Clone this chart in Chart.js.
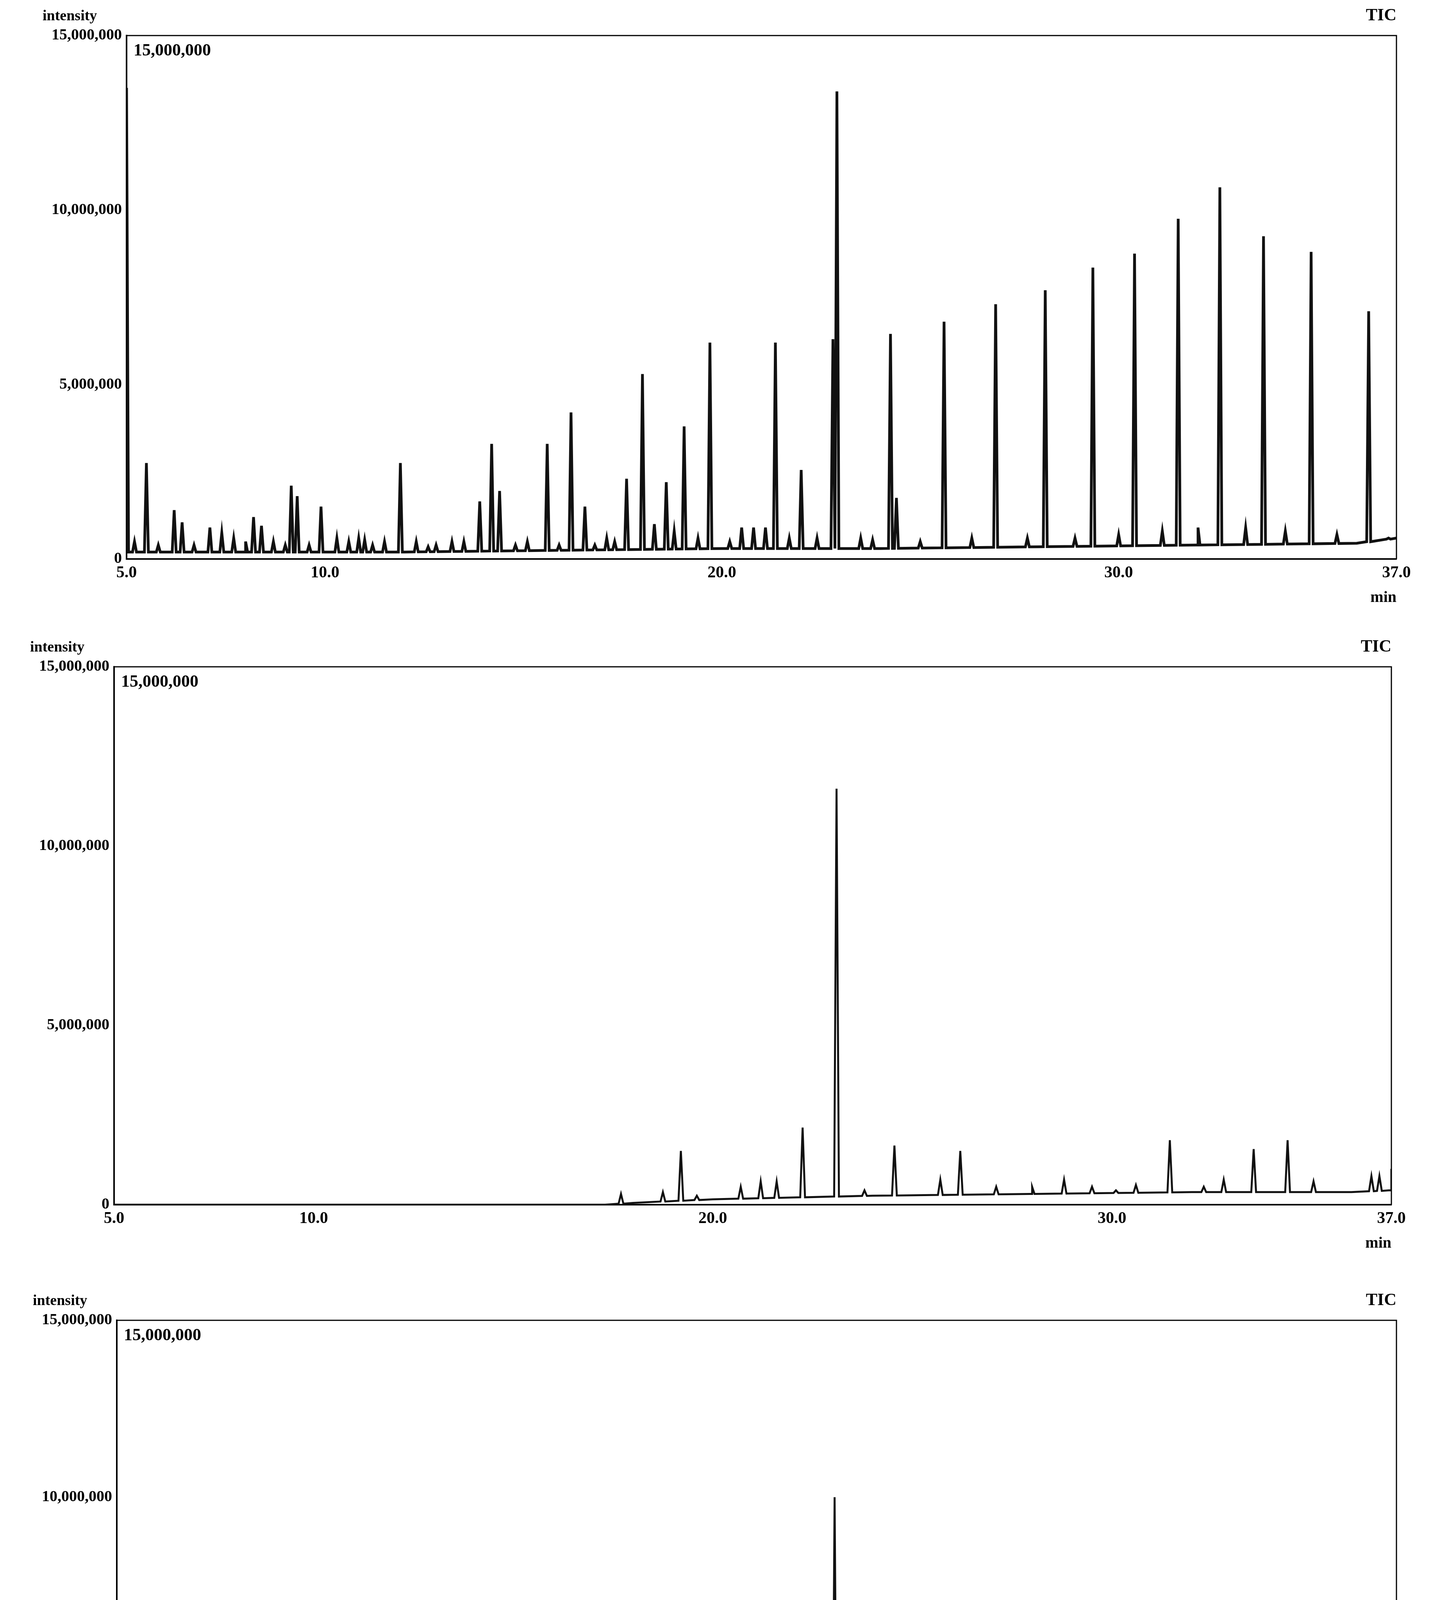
<!DOCTYPE html>
<html><head><meta charset="utf-8">
<script src="https://cdn.jsdelivr.net/npm/chart.js@4"></script>
<style>html,body{margin:0;padding:0;background:#fff;width:3666px;height:4937px;overflow:hidden}
.p{position:absolute;left:0;width:3666px}</style></head><body>
<div class="p" id="w1" style="top:0;height:1600px"><canvas id="c1"></canvas></div>
<div class="p" id="w2" style="top:1600px;height:1650px"><canvas id="c2"></canvas></div>
<div class="p" id="w3" style="top:3250px;height:1687px"><canvas id="c3"></canvas></div>
<script>
// ---- data (retention time in min, intensity in millions) ----
const xTicks=[5,10,20,30,37];
const yTicks=[0,5e6,10e6,15e6];
const peakTimes1=[5.0,5.2,5.5,5.8,6.2,6.4,6.7,7.1,7.4,7.7,8.0,8.2,8.4,8.7,9.0,9.15,9.3,9.6,9.9,10.3,10.6,10.85,11.0,11.2,11.5,11.9,12.3,12.6,12.8,13.2,13.5,13.9,14.2,14.4,14.8,15.1,15.6,15.9,16.2,16.55,16.8,17.1,17.3,17.6,18.0,18.3,18.6,18.8,19.05,19.4,19.7,20.2,20.5,20.8,21.1,21.35,21.7,22.0,22.4,22.8,22.9,23.5,23.8,24.25,24.4,25.0,25.6,26.3,26.9,27.7,28.15,28.9,29.35,30.0,30.4,31.1,31.5,32.0,32.55,33.2,33.65,34.2,34.85,35.5,36.3,36.8];
const peakHeights1=[13.5,0.5,2.75,0.4,1.4,1.05,0.4,0.9,0.75,0.6,0.5,1.2,0.95,0.5,0.4,2.1,1.8,0.4,1.5,0.6,0.5,0.6,0.55,0.4,0.5,2.75,0.5,0.35,0.4,0.5,0.5,1.65,3.3,1.95,0.4,0.5,3.3,0.4,4.2,1.5,0.4,0.6,0.5,2.3,5.3,1.0,2.2,0.8,3.8,0.6,6.2,0.5,0.9,0.9,0.9,6.2,0.6,2.55,0.6,6.3,13.4,0.6,0.55,6.45,1.75,0.5,6.8,0.6,7.3,0.6,7.7,0.6,8.35,0.7,8.75,0.8,9.75,0.9,10.65,0.9,9.25,0.8,8.8,0.7,7.1,0.6];
const baseTimes1=[5,8,12,16,20,24,28,32,36,37];
const baseValues1=[0.2,0.2,0.2,0.25,0.3,0.3,0.35,0.4,0.45,0.6];

const peakTimes2=[17.7,18.75,19.2,19.6,20.7,21.2,21.6,22.25,23.1,23.8,24.55,25.7,26.2,27.1,28.0,28.8,29.5,30.1,30.6,31.45,32.3,32.8,33.55,34.4,35.05,36.5,36.7,37.0];
const peakHeights2=[0.3,0.35,1.5,0.25,0.5,0.65,0.65,2.15,11.6,0.4,1.65,0.7,1.5,0.5,0.5,0.7,0.5,0.4,0.55,1.8,0.5,0.7,1.55,1.8,0.65,0.8,0.8,1.0];
const baseTimes2=[5,17.3,18,19,20,24,28,32,36,37];
const baseValues2=[0,0,0.05,0.1,0.15,0.25,0.3,0.35,0.35,0.4];

const peakTimes3=[17.7,18.7,19.1,20.0,20.55,21.1,21.55,22.1,22.95,23.7,24.4,25.5,26.0,26.95,28.0,28.6,29.5,30.0,30.5,31.3,32.3,32.7,33.3,34.15,34.9,35.3,36.3,36.5,37.0];
const peakHeights3=[0.75,0.7,2.6,0.4,0.75,0.75,0.6,2.2,10.0,2.6,1.6,1.3,3.7,1.45,0.4,1.3,0.4,0.5,0.4,1.8,0.4,0.6,1.8,1.9,0.7,0.5,0.8,0.7,1.0];
const baseTimes3=[5,17.3,18,19,20,24,28,32,36,37];
const baseValues3=[0,0,0.05,0.1,0.2,0.25,0.3,0.3,0.35,0.4];

function baseAt(bt,bv,t){for(let i=0;i<bt.length-1;i++){if(t>=bt[i]&&t<=bt[i+1]){const f=(t-bt[i])/(bt[i+1]-bt[i]);return bv[i]+f*(bv[i+1]-bv[i]);}}return bv[bv.length-1];}
function series(pt,ph,bt,bv,w){
  const pts=bt.map((t,i)=>({x:t,y:bv[i]*1e6}));
  pt.forEach((t,i)=>{const b=baseAt(bt,bv,t);
    pts.push({x:Math.max(5,t-w),y:b*1e6},{x:t,y:ph[i]*1e6},{x:Math.min(37,t+w),y:b*1e6});});
  pts.sort((a,b)=>a.x-b.x);return pts;}

const F="'Liberation Serif', 'DejaVu Serif', serif";
function fmt(v){return v.toLocaleString('en-US');}
function make(id,data,geo,lw){
  const wrap=document.getElementById(id).parentElement;
  const H=wrap.clientHeight;
  const textPlug={id:'txt',afterDraw(c){const ctx=c.ctx,a=c.chartArea;ctx.save();ctx.fillStyle='#000';
    ctx.font='bold 38px '+F;ctx.textBaseline='bottom';ctx.textAlign='left';
    ctx.fillText('intensity',a.left-215,a.top-30);
    ctx.font='bold 44px '+F;ctx.textAlign='right';ctx.fillText('TIC',a.right,a.top-28);
    ctx.textAlign='left';ctx.textBaseline='top';ctx.fillText('15,000,000',a.left+18,a.top+18);
    ctx.textAlign='right';ctx.font='bold 40px '+F;ctx.fillText('min',a.right,a.bottom+80);
    ctx.restore();}};
  return new Chart(document.getElementById(id),{type:'line',
    data:{datasets:[{data:data,borderColor:'#111',borderWidth:lw,pointRadius:0,tension:0,fill:false}]},
    options:{responsive:true,maintainAspectRatio:false,animation:false,devicePixelRatio:1,parsing:false,
      layout:{padding:{left:0,right:3666-geo.right,top:geo.top,bottom:0}},
      plugins:{legend:{display:false},tooltip:{enabled:false}},
      scales:{
        x:{type:'linear',min:5,max:37,grid:{display:false,drawTicks:true},border:{color:'#000',width:4},
          afterBuildTicks(s){s.ticks=xTicks.map(v=>({value:v}));},
          afterFit(s){s.height=H-geo.bottom;},
          ticks:{color:'#000',font:{family:F,size:42,weight:'bold'},maxRotation:0,autoSkip:false,callback:v=>v.toFixed(1)}},
        y:{min:0,max:15e6,grid:{display:false},border:{color:'#000',width:4},
          afterBuildTicks(s){s.ticks=yTicks.map(v=>({value:v}));},
          afterFit(s){s.width=geo.left;},
          ticks:{color:'#000',font:{family:F,size:40,weight:'bold'},padding:4,callback:v=>fmt(v)}}}},
    plugins:[textPlug,{id:'frame',afterDraw(c){const a=c.chartArea,ctx=c.ctx;ctx.save();ctx.strokeStyle='#000';ctx.lineWidth=3;
      ctx.beginPath();ctx.moveTo(a.left,a.top);ctx.lineTo(a.right,a.top);ctx.lineTo(a.right,a.bottom);ctx.stroke();ctx.restore();}}]});
}
make('c1',series(peakTimes1,peakHeights1,baseTimes1,baseValues1,0.05),{left:324,right:3575,top:91,bottom:1431},7);
make('c2',series(peakTimes2,peakHeights2,baseTimes2,baseValues2,0.06),{left:292,right:3562,top:107,bottom:1484},5);
make('c3',series(peakTimes3,peakHeights3,baseTimes3,baseValues3,0.06),{left:299,right:3575,top:130,bottom:1488},5);
</script></body></html>
